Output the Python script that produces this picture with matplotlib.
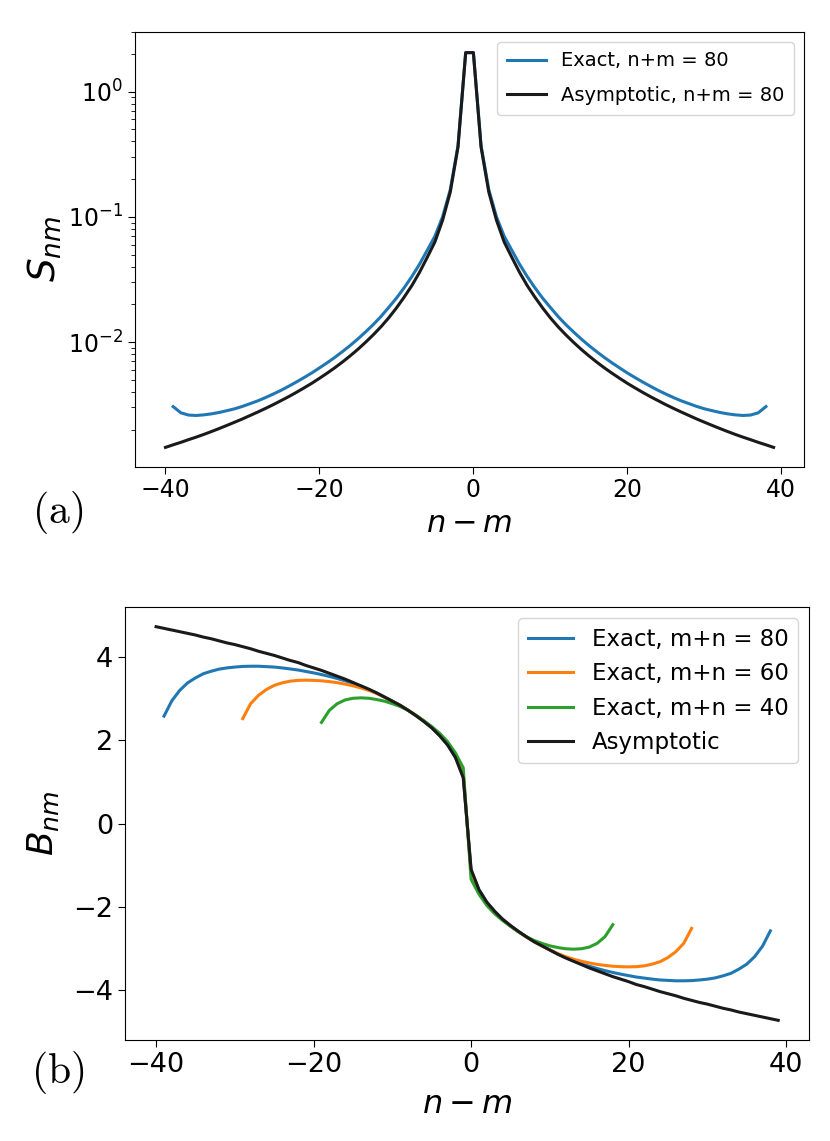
import numpy as np
import matplotlib.pyplot as plt

# n - m positions
x_asym = np.arange(-40, 40)
x_exact80 = np.arange(-39, 39)
x_exact60 = np.arange(-29, 29)
x_exact40 = np.arange(-19, 19)

# (a) S_nm
s_asym = [0.00144, 0.00151, 0.00158, 0.00166, 0.00174, 0.00183, 0.00193, 0.00204, 0.00216, 0.00229,
          0.00243, 0.00259, 0.00276, 0.00295, 0.00316, 0.00340, 0.00366, 0.00396, 0.00430, 0.00468,
          0.00513, 0.00564, 0.00623, 0.00693, 0.00776, 0.00875, 0.00996, 0.01143, 0.01325, 0.0156,
          0.0187, 0.0228, 0.0282, 0.0360, 0.0474, 0.063, 0.094, 0.158, 0.36, 2.05,
          2.05, 0.36, 0.158, 0.094, 0.063, 0.0474, 0.0360, 0.0282, 0.0228, 0.0187,
          0.0156, 0.01325, 0.01143, 0.00996, 0.00875, 0.00776, 0.00693, 0.00623, 0.00564, 0.00513,
          0.00468, 0.00430, 0.00396, 0.00366, 0.00340, 0.00316, 0.00295, 0.00276, 0.00259, 0.00243,
          0.00229, 0.00216, 0.00204, 0.00193, 0.00183, 0.00174, 0.00166, 0.00158, 0.00151, 0.00144]
s_exact80 = [0.00305, 0.00272, 0.00261, 0.00259, 0.00262, 0.00267, 0.00274, 0.00283, 0.00293, 0.00306,
             0.00322, 0.00339, 0.00360, 0.00384, 0.00411, 0.00443, 0.00479, 0.00520, 0.00566, 0.00621,
             0.00682, 0.00754, 0.00839, 0.00939, 0.01059, 0.01205, 0.0138, 0.0160, 0.0189, 0.0224,
             0.0271, 0.0333, 0.0418, 0.054, 0.070, 0.100, 0.165, 0.37, 2.05,
             2.05, 0.37, 0.165, 0.100, 0.070, 0.054, 0.0418, 0.0333, 0.0271, 0.0224,
             0.0189, 0.0160, 0.0138, 0.01205, 0.01059, 0.00939, 0.00839, 0.00754, 0.00682, 0.00621,
             0.00566, 0.00520, 0.00479, 0.00443, 0.00411, 0.00384, 0.00360, 0.00339, 0.00322, 0.00306,
             0.00293, 0.00283, 0.00274, 0.00267, 0.00262, 0.00259, 0.00261, 0.00272, 0.00305]

# (b) B_nm
b_asym = [4.73, 4.69, 4.65, 4.61, 4.57, 4.53, 4.48, 4.44, 4.39, 4.34,
          4.30, 4.25, 4.20, 4.14, 4.09, 4.04, 3.98, 3.92, 3.87, 3.80,
          3.74, 3.68, 3.61, 3.54, 3.47, 3.39, 3.31, 3.23, 3.14, 3.04,
          2.94, 2.84, 2.72, 2.59, 2.45, 2.30, 2.11, 1.89, 1.59, 1.10,
          -1.10, -1.59, -1.89, -2.11, -2.30, -2.45, -2.59, -2.72, -2.84, -2.94,
          -3.04, -3.14, -3.23, -3.31, -3.39, -3.47, -3.54, -3.61, -3.68, -3.74,
          -3.80, -3.87, -3.92, -3.98, -4.04, -4.09, -4.14, -4.20, -4.25, -4.30,
          -4.34, -4.39, -4.44, -4.48, -4.53, -4.57, -4.61, -4.65, -4.69, -4.73]
b_exact80 = [2.58, 2.95, 3.20, 3.38, 3.50, 3.60, 3.66, 3.71, 3.74, 3.76,
             3.775, 3.78, 3.78, 3.77, 3.76, 3.74, 3.715, 3.69, 3.655, 3.62,
             3.58, 3.535, 3.485, 3.43, 3.37, 3.30, 3.22, 3.135, 3.04, 2.94,
             2.84, 2.72, 2.60, 2.46, 2.30, 2.12, 1.90, 1.60, 1.14,
             -1.14, -1.60, -1.90, -2.12, -2.30, -2.46, -2.60, -2.72, -2.84, -2.94,
             -3.04, -3.135, -3.22, -3.30, -3.37, -3.43, -3.485, -3.535, -3.58, -3.62,
             -3.655, -3.69, -3.715, -3.74, -3.76, -3.77, -3.78, -3.78, -3.775, -3.76,
             -3.74, -3.71, -3.66, -3.60, -3.50, -3.38, -3.20, -2.95, -2.58]
b_exact60 = [2.52, 2.88, 3.08, 3.22, 3.32, 3.38, 3.42, 3.44, 3.445, 3.44,
             3.43, 3.41, 3.385, 3.35, 3.31, 3.26, 3.20, 3.125, 3.035, 2.94,
             2.84, 2.725, 2.60, 2.465, 2.31, 2.13, 1.92, 1.63, 1.20,
             -1.20, -1.63, -1.92, -2.13, -2.31, -2.465, -2.60, -2.725, -2.84, -2.94,
             -3.035, -3.125, -3.20, -3.26, -3.31, -3.35, -3.385, -3.41, -3.43, -3.44,
             -3.445, -3.44, -3.42, -3.38, -3.32, -3.22, -3.08, -2.88, -2.52]
b_exact40 = [2.43, 2.72, 2.88, 2.97, 3.01, 3.02, 3.01, 2.98, 2.94, 2.88,
             2.81, 2.72, 2.60, 2.47, 2.33, 2.17, 1.97, 1.70, 1.34,
             -1.34, -1.70, -1.97, -2.17, -2.33, -2.47, -2.60, -2.72, -2.81, -2.88,
             -2.94, -2.98, -3.01, -3.02, -3.01, -2.97, -2.88, -2.72, -2.43]

lw = 2.2
fig = plt.figure(figsize=(8.3, 11.41), dpi=100)
ax1 = fig.add_axes([0.1627, 0.591, 0.806, 0.381])
ax2 = fig.add_axes([0.1506, 0.0885, 0.8245, 0.3795])

# panel (a)
ax1.plot(x_exact80, s_exact80, color='#1f77b4', lw=lw, label='Exact, n+m = 80')
ax1.plot(x_asym, s_asym, color='#1a1a1a', lw=lw, label='Asymptotic, n+m = 80')
ax1.set_yscale('log')
ax1.set_ylim(1.01e-3, 3.0)
ax1.set_xticks([-40, -20, 0, 20, 40])
ax1.set_xlabel(r'$n-m$', fontsize=22, labelpad=5)
ax1.set_ylabel(r'$S_{nm}$', fontsize=27, labelpad=3)
ax1.tick_params(which='major', labelsize=17, length=5)
ax1.tick_params(which='minor', length=3)
ax1.legend(loc='upper right', fontsize=14, labelspacing=0.8, borderpad=0.5)

# panel (b)
ax2.plot(x_exact80, b_exact80, color='#1f77b4', lw=lw, label='Exact, m+n = 80')
ax2.plot(x_exact60, b_exact60, color='#ff7f0e', lw=lw, label='Exact, m+n = 60')
ax2.plot(x_exact40, b_exact40, color='#2ca02c', lw=lw, label='Exact, m+n = 40')
ax2.plot(x_asym, b_asym, color='#1a1a1a', lw=lw, label='Asymptotic')
ax2.set_xticks([-40, -20, 0, 20, 40])
ax2.set_yticks([-4, -2, 0, 2, 4])
ax2.set_xlabel(r'$n-m$', fontsize=23, labelpad=8)
ax2.set_ylabel(r'$B_{nm}$', fontsize=26, labelpad=9)
ax2.tick_params(which='major', labelsize=19.5, length=5)
ax2.legend(loc='upper right', fontsize=16.5)

fig.text(58 / 830, 1 - 513 / 1141, r'$\mathrm{(a)}$', math_fontfamily='cm',
         fontsize=30, ha='center', va='center')
fig.text(58 / 830, 1 - 1073 / 1141, r'$\mathrm{(b)}$', math_fontfamily='cm',
         fontsize=30, ha='center', va='center')

fig.savefig('out.png', dpi=100)
